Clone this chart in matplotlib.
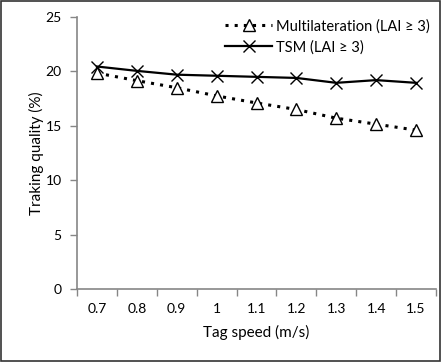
import matplotlib
matplotlib.use("Agg")
import matplotlib.pyplot as plt
from matplotlib.patches import Rectangle

categories = ["0.7", "0.8", "0.9", "1", "1.1", "1.2", "1.3", "1.4", "1.5"]
multilateration = [19.85, 19.15, 18.5, 17.75, 17.1, 16.5, 15.7, 15.15, 14.6]
tsm = [20.45, 20.05, 19.7, 19.6, 19.5, 19.4, 18.95, 19.2, 18.95]
yticks = [0, 5, 10, 15, 20, 25]

plt.rcParams['font.family'] = ['Lato', 'DejaVu Sans']

fig = plt.figure(figsize=(4.41, 3.62), dpi=100)
ax = fig.add_axes([0.1746, 0.2017, 0.8141, 0.7513])

x = list(range(len(categories)))
ax.plot(x, multilateration, color='black', linestyle=(0, (1, 2)), linewidth=2.2,
        marker='^', markersize=8, markerfacecolor='white', markeredgecolor='black',
        markeredgewidth=1.0, label='Multilateration (LAI ≥ 3)')
ax.plot(x, tsm, color='black', linestyle='-', linewidth=1.6,
        marker='x', markersize=8, markeredgewidth=1.0,
        label='TSM (LAI ≥ 3)')

ax.set_xlim(-0.5, len(categories) - 0.5)
ax.set_ylim(0, 25)
ax.set_yticks(yticks)
ax.set_yticklabels([str(v) for v in yticks], fontsize=10)
ax.set_xticks([i - 0.5 for i in range(len(categories) + 1)])
ax.set_xticklabels([])
ax.set_xticks(x, minor=True)
ax.set_xticklabels(categories, minor=True, fontsize=10)
ax.tick_params(axis='x', which='minor', length=0, pad=10)
ax.tick_params(axis='x', which='major', length=5, color='#868686', width=1)
ax.tick_params(axis='y', length=5, color='#868686', width=1, pad=6)

for s in ['top', 'right']:
    ax.spines[s].set_visible(False)
for s in ['left', 'bottom']:
    ax.spines[s].set_color('#868686')
    ax.spines[s].set_linewidth(1.2)

ax.set_xlabel('Tag speed (m/s)', fontsize=11, labelpad=7)
ax.set_ylabel('Traking quality (%)', fontsize=11, labelpad=1)

leg = ax.legend(loc='upper right', bbox_to_anchor=(1.02, 1.04), frameon=False,
                fontsize=10.5, handlelength=3.2, handletextpad=0.3, labelspacing=0.45)

fig.patches.append(Rectangle((0.002, 0.003), 0.996, 0.994, transform=fig.transFigure,
                             fill=False, edgecolor='#333333', linewidth=1.2))

fig.savefig('out.png', dpi=100)
